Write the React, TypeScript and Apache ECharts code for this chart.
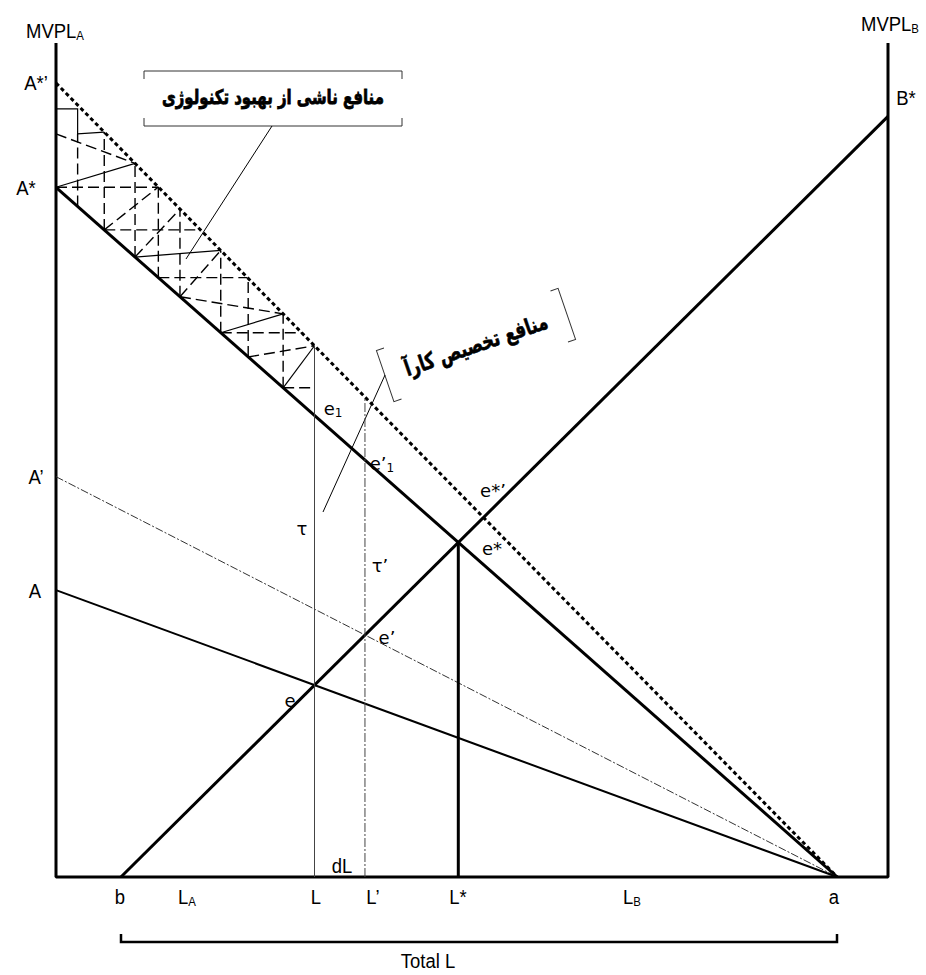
import React, { useEffect, useRef } from "react";
import * as echarts from "echarts";

// ---------- values (both axes run 0..100) ----------
const interceptNames = ["A*’", "A*", "A’", "A"];
const interceptValues = [95.2, 82.7, 48.0, 34.4]; // MVPL_A curves on the left axis
const endA = 93.9; // point "a" on the horizontal axis
const startB = 7.8; // point "b" on the horizontal axis
const bStar = 91.2; // B* on the right axis
// hatched "gain from technology" area: step positions along x
const hatchXs = [2.6, 5.8, 9.5, 12.3, 14.9, 19.8, 23.1, 27.3];
const hatchBoxTop = 92.1;
const hatchBoxBottom = 89.1;
const stairIdx = [0, 2, 4, 6, 8];
const arrowsSolid = [
  [0, 3],
  [3, 6],
  [6, 8],
  [8, 9],
];
const arrowsDashed = [
  [2, 4],
  [3, 5],
  [5, 6],
  [5, 8],
  [7, 9],
];
const bottomNames = ["b", "LA", "L", "L’", "L*", "LB", "a"];

const FONT_LAT = "'Liberation Sans', Arial, sans-serif";
const FONT_E = "'DejaVu Sans', Verdana, sans-serif";
const FONT_FA = "'DejaVu Sans', sans-serif";

const mvpA = (i: number, x: number) => interceptValues[i] * (1 - x / endA);
const xOnA = (i: number, y: number) => endA * (1 - y / interceptValues[i]);
const kB = bStar / (100 - startB);
const mvpB = (x: number) => kB * (x - startB);
const cross = (i: number) => {
  const c = interceptValues[i];
  const x = (c + kB * startB) / (kB + c / endA);
  return [x, mvpB(x)];
};

let measureCtx: CanvasRenderingContext2D | null = null;
function tw(text: string, size: number, family: string, weight = "normal") {
  if (!measureCtx) measureCtx = document.createElement("canvas").getContext("2d");
  measureCtx!.font = `${weight} ${size}px ${family}`;
  return measureCtx!.measureText(text).width;
}

function lbl(
  cx: number,
  cy: number,
  main: string,
  sub: string,
  size: number,
  family: string,
  subSize: number,
  drop: number,
  sx = 1
) {
  const w1 = tw(main, size, family) * sx;
  const w2 = sub ? tw(sub, subSize, family) * sx : 0;
  const x0 = cx - (w1 + w2) / 2;
  const out: any[] = [
    {
      type: "text",
      x: x0,
      y: cy,
      scaleX: sx,
      silent: true,
      style: { text: main, fontSize: size, fontFamily: family, fill: "#000", align: "left", verticalAlign: "middle" },
    },
  ];
  if (sub)
    out.push({
      type: "text",
      x: x0 + w1,
      y: cy + drop,
      scaleX: sx,
      silent: true,
      style: { text: sub, fontSize: subSize, fontFamily: family, fill: "#000", align: "left", verticalAlign: "middle" },
    });
  return out;
}

export default function App() {
  const ref = useRef<HTMLDivElement>(null);
  useEffect(() => {
    if (!ref.current) return;
    const chart = echarts.init(ref.current, undefined, { renderer: "svg" });

    const L = cross(3)[0];
    const Lp = cross(2)[0];
    const eStar = cross(1);
    const steps = [0, ...hatchXs, L];

    const lineS = (data: number[][], width: number, type: any = "solid", color = "#000", z = 3) => ({
      type: "line",
      data,
      symbol: "none",
      clip: false,
      silent: true,
      animation: false,
      z,
      lineStyle: { width, type, color, cap: "butt" },
    });

    // hatch segments
    const hatchDashed: number[][][] = [];
    const hatchSolid: number[][][] = [];
    hatchXs.forEach((x, i) => {
      const top = i === 0 ? hatchBoxBottom : mvpA(0, x);
      hatchDashed.push([
        [x, mvpA(1, x)],
        [x, top],
      ]);
    });
    stairIdx.forEach((si) => {
      const x = steps[si];
      const y = mvpA(1, x);
      hatchDashed.push([
        [x, y],
        [Math.min(xOnA(0, y), L), y],
      ]);
    });
    arrowsDashed.forEach(([a, b]) =>
      hatchDashed.push([
        [steps[a], mvpA(1, steps[a])],
        [steps[b], mvpA(0, steps[b])],
      ])
    );
    arrowsSolid.forEach(([a, b]) =>
      hatchSolid.push([
        [steps[a], mvpA(1, steps[a])],
        [steps[b], mvpA(0, steps[b])],
      ])
    );
    hatchDashed.push([
      [0, hatchBoxBottom],
      [steps[3], mvpA(0, steps[3])],
    ]);
    hatchSolid.push([
      [0, hatchBoxTop],
      [steps[1], hatchBoxTop],
      [steps[1], hatchBoxBottom],
      [steps[2], mvpA(0, steps[2])],
    ]);

    const series: any[] = [
      lineS(
        [
          [0, 100],
          [0, 0],
          [100, 0],
          [100, 100],
        ],
        3
      ),
      lineS(
        [
          [0, interceptValues[0]],
          [endA, 0],
        ],
        3,
        [4, 3]
      ),
      lineS(
        [
          [0, interceptValues[1]],
          [endA, 0],
        ],
        3
      ),
      lineS(
        [
          [0, interceptValues[2]],
          [endA, 0],
        ],
        1,
        [8, 2, 2, 2],
        "#333"
      ),
      lineS(
        [
          [0, interceptValues[3]],
          [endA, 0],
        ],
        2
      ),
      lineS(
        [
          [startB, 0],
          [100, mvpB(100)],
        ],
        3
      ),
      lineS(
        [
          [L, 0],
          [L, mvpA(0, L)],
        ],
        1,
        "solid",
        "#444"
      ),
      lineS(
        [
          [Lp, 0],
          [Lp, mvpA(0, Lp)],
        ],
        1,
        [9, 2, 2, 2],
        "#444"
      ),
      lineS(
        [
          [eStar[0], 0],
          [eStar[0], eStar[1]],
        ],
        3
      ),
      {
        type: "lines",
        coordinateSystem: "cartesian2d",
        polyline: true,
        silent: true,
        clip: false,
        z: 2,
        data: hatchDashed.map((c) => ({ coords: c })),
        lineStyle: { color: "#000", width: 1.4, type: [11, 5], opacity: 1 },
      },
      {
        type: "lines",
        coordinateSystem: "cartesian2d",
        polyline: true,
        silent: true,
        clip: false,
        z: 2,
        data: hatchSolid.map((c) => ({ coords: c })),
        lineStyle: { color: "#000", width: 1.2, type: "solid", opacity: 1 },
      },
    ];

    const S = 21,
      SS = 13,
      D = 5,
      SX = 0.88;
    const ES = 18,
      ESS = 12,
      ED = 5;
    const graphic: any[] = [
      ...lbl(55, 31, "MVPL", "A", S, FONT_LAT, SS, D, SX),
      ...lbl(890, 24, "MVPL", "B", S, FONT_LAT, SS, D, SX),
      ...lbl(906, 98, "B*", "", S, FONT_LAT, SS, D, SX),
      ...lbl(36, 83, interceptNames[0], "", S, FONT_LAT, SS, D, SX),
      ...lbl(26, 188, interceptNames[1], "", S, FONT_LAT, SS, D, SX),
      ...lbl(36, 477, interceptNames[2], "", S, FONT_LAT, SS, D, SX),
      ...lbl(35, 591, interceptNames[3], "", S, FONT_LAT, SS, D, SX),
      ...lbl(333, 408, "e", "1", ES, FONT_E, ESS, ED),
      ...lbl(382, 463, "e’", "1", ES, FONT_E, ESS, ED),
      ...lbl(302, 528, "τ", "", ES, FONT_E, ESS, ED),
      ...lbl(380, 565, "τ’", "", ES, FONT_E, ESS, ED),
      ...lbl(493, 490, "e*’", "", ES, FONT_E, ESS, ED),
      ...lbl(492, 548, "e*", "", ES, FONT_E, ESS, ED),
      ...lbl(387, 637, "e’", "", ES, FONT_E, ESS, ED),
      ...lbl(290, 700, "e", "", ES, FONT_E, ESS, ED),
      ...lbl(342, 866, "dL", "", S, FONT_LAT, SS, D, SX),
      ...lbl(120, 897, bottomNames[0], "", S, FONT_LAT, SS, D, SX),
      ...lbl(187, 897, "L", "A", S, FONT_LAT, SS, D, SX),
      ...lbl(316, 897, bottomNames[2], "", S, FONT_LAT, SS, D, SX),
      ...lbl(373, 897, bottomNames[3], "", S, FONT_LAT, SS, D, SX),
      ...lbl(458, 897, bottomNames[4], "", S, FONT_LAT, SS, D, SX),
      ...lbl(632, 897, "L", "B", S, FONT_LAT, SS, D, SX),
      ...lbl(834, 897, bottomNames[6], "", S, FONT_LAT, SS, D, SX),
      ...lbl(428, 961, "Total L", "", S, FONT_LAT, SS, D, SX),
      {
        type: "polyline",
        silent: true,
        shape: {
          points: [
            [121, 934],
            [121, 942],
            [837, 942],
            [837, 934],
          ],
        },
        style: { stroke: "#000", lineWidth: 2.5, fill: null },
      },
    ];

    // box 1
    const t1 = "منافع ناشی از بهبود تکنولوژی";
    const K = 1.35;
    const fs1 = ((100 * 222) / tw(t1, 100, FONT_FA, "bold")) * K;
    graphic.push(
      {
        type: "polyline",
        silent: true,
        shape: {
          points: [
            [144, 79],
            [144, 71],
            [402, 71],
            [402, 79],
          ],
        },
        style: { stroke: "#333", lineWidth: 1, fill: null },
      },
      {
        type: "polyline",
        silent: true,
        shape: {
          points: [
            [144, 118],
            [144, 126],
            [402, 126],
            [402, 118],
          ],
        },
        style: { stroke: "#333", lineWidth: 1, fill: null },
      },
      {
        type: "text",
        x: 273,
        y: 97,
        scaleX: 1 / K,
        silent: true,
        style: {
          text: t1,
          fontSize: fs1,
          fontWeight: "bold",
          fontFamily: FONT_FA,
          fill: "#000",
          stroke: "#000",
          lineWidth: 0.8,
          align: "center",
          verticalAlign: "middle",
        },
      },
      { type: "line", silent: true, shape: { x1: 272, y1: 126, x2: 186, y2: 259 }, style: { stroke: "#000", lineWidth: 1 } }
    );

    // box 2 (rotated)
    const t2 = "منافع تخصیص کارآ";
    const fs2 = ((100 * 150) / tw(t2, 100, FONT_FA, "bold")) * K;
    graphic.push(
      {
        type: "group",
        x: 476,
        y: 345,
        rotation: 0.33,
        children: [
          {
            type: "text",
            x: 0,
            y: 0,
            scaleX: 1 / K,
            silent: true,
            style: {
              text: t2,
              fontSize: fs2,
              fontWeight: "bold",
              fontFamily: FONT_FA,
              fill: "#000",
              stroke: "#000",
              lineWidth: 0.6,
              align: "center",
              verticalAlign: "middle",
            },
          },
          {
            type: "polyline",
            silent: true,
            shape: {
              points: [
                [-88, -27],
                [-96, -27],
                [-96, 27],
                [-88, 27],
              ],
            },
            style: { stroke: "#333", lineWidth: 1, fill: null },
          },
          {
            type: "polyline",
            silent: true,
            shape: {
              points: [
                [88, -27],
                [96, -27],
                [96, 27],
                [88, 27],
              ],
            },
            style: { stroke: "#333", lineWidth: 1, fill: null },
          },
        ],
      },
      { type: "line", silent: true, shape: { x1: 385, y1: 375, x2: 323, y2: 512 }, style: { stroke: "#000", lineWidth: 1 } }
    );

    chart.setOption({
      animation: false,
      backgroundColor: "#fff",
      grid: { left: 56, top: 43, width: 832, height: 834 },
      xAxis: { type: "value", min: 0, max: 100, show: false },
      yAxis: { type: "value", min: 0, max: 100, show: false },
      series,
      graphic,
    });
    return () => chart.dispose();
  }, []);
  return <div ref={ref} style={{ position: "absolute", left: 0, top: 0, width: 926, height: 975, background: "#fff" }} />;
}
